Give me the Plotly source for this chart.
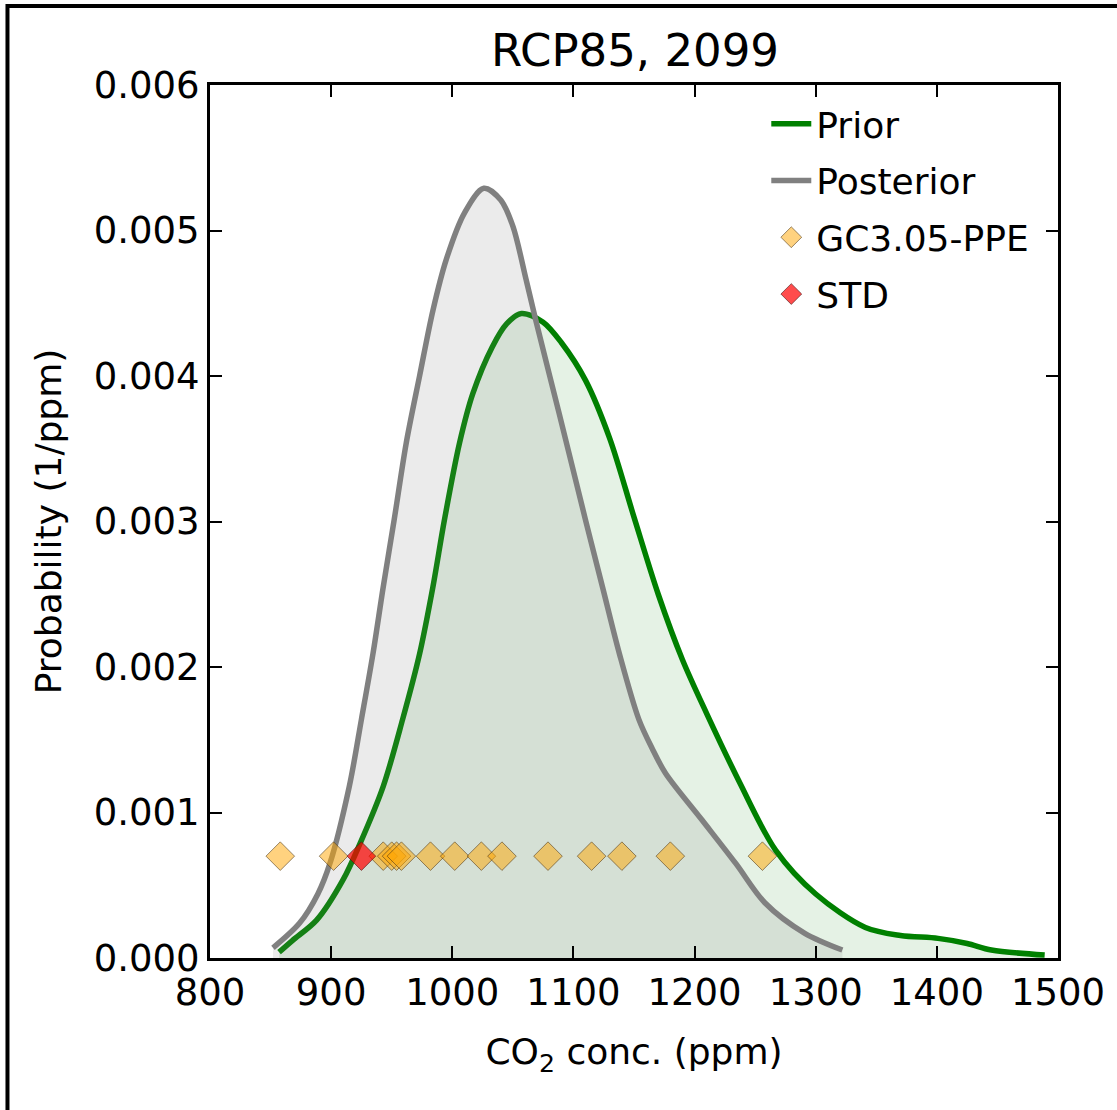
import plotly.graph_objects as go

# ---- data ----
prior_x = [857, 868, 888, 910, 924, 943, 959, 973, 984, 993.5, 1006, 1017, 1033, 1045, 1057,
           1075, 1090, 1110, 1130, 1150, 1170, 1190, 1210, 1237, 1267, 1300, 1341,
           1370, 1401, 1425, 1445, 1489]
prior_y = [0.00004, 0.00012, 0.00026, 0.00054, 0.00079, 0.00118, 0.00164, 0.00209, 0.00255,
           0.00301, 0.00354, 0.00388, 0.0042, 0.00436, 0.00443, 0.00437, 0.00423, 0.00397,
           0.00357, 0.00303, 0.0025, 0.00205, 0.00168, 0.00121, 0.00074, 0.00044, 0.00021,
           0.000155, 0.000135, 0.0001, 0.000055, 0.00002]

post_x = [852, 874, 889, 899, 915, 925, 934.5, 943, 952, 962, 973, 984, 995, 1010,
          1026, 1040, 1050, 1061, 1069, 1088, 1110, 1124, 1138, 1154, 1165, 1176, 1206, 1234,
          1258, 1291, 1322]
post_y = [0.00007, 0.00024, 0.00044, 0.00065, 0.00118, 0.00164, 0.00209, 0.00255,
          0.00301, 0.00354, 0.0040, 0.00445, 0.0048, 0.00512, 0.00529, 0.00521, 0.00503,
          0.00466, 0.00438, 0.00375, 0.00301, 0.00255, 0.00209, 0.00164, 0.00144, 0.00127,
          0.00095, 0.00065, 0.00038, 0.00017, 0.000055]

ppe_x = [858, 902, 943, 950, 954, 958, 982, 1002, 1024, 1041, 1079, 1115, 1140, 1180, 1256]
ppe_y = [0.0007] * len(ppe_x)
std_x = [925]
std_y = [0.0007]

title_text = "RCP85, 2099"
xlabel = "CO<sub>2</sub> conc. (ppm)"
ylabel = "Probability (1/ppm)"

FONT = "DejaVu Sans"

fig = go.Figure()
# prior fill + line
fig.add_trace(go.Scatter(x=prior_x, y=prior_y, mode="lines", fill="tozeroy",
                         fillcolor="rgba(0,128,0,0.10)", line=dict(width=0, shape="spline", smoothing=0.9),
                         showlegend=False, hoverinfo="skip"))
fig.add_trace(go.Scatter(x=prior_x, y=prior_y, mode="lines", name="Prior",
                         line=dict(color="green", width=5.5, shape="spline", smoothing=0.9),
                         legendgroup="a"))
# posterior fill + line
fig.add_trace(go.Scatter(x=post_x, y=post_y, mode="lines", fill="tozeroy",
                         fillcolor="rgba(128,128,128,0.16)", line=dict(width=0, shape="spline", smoothing=0.9),
                         showlegend=False, hoverinfo="skip"))
fig.add_trace(go.Scatter(x=post_x, y=post_y, mode="lines", name="Posterior",
                         line=dict(color="grey", width=5.5, shape="spline", smoothing=0.9),
                         legendgroup="b"))
fig.add_trace(go.Scatter(x=ppe_x, y=ppe_y, mode="markers", name="GC3.05-PPE",
                         marker=dict(symbol="diamond", size=22, color="rgba(255,165,0,0.5)",
                                     line=dict(color="rgba(70,50,20,0.55)", width=1)),
                         legendgroup="c"))
fig.add_trace(go.Scatter(x=std_x, y=std_y, mode="markers", name="STD",
                         marker=dict(symbol="diamond", size=22, color="rgba(255,0,0,0.7)",
                                     line=dict(color="rgba(70,20,20,0.6)", width=1)),
                         legendgroup="d"))

axis_common = dict(showline=True, linecolor="black", linewidth=3, mirror="allticks",
                   ticks="inside", ticklen=12, tickwidth=1.5, tickcolor="black",
                   showgrid=False, zeroline=False,
                   tickfont=dict(family=FONT, size=37, color="black"))

fig.update_layout(
    width=1117, height=1110,
    margin=dict(l=210, r=57, t=85, b=152),
    paper_bgcolor="white", plot_bgcolor="white",
    font=dict(family=FONT, color="black"),
    title=dict(text=title_text, x=(210 + 425) / 1117, xanchor="center",
               y=1 - 50 / 1110, yanchor="middle", yref="container",
               font=dict(family=FONT, size=45, color="black")),
    xaxis=dict(range=[800, 1500], dtick=100, tick0=800,
               title=dict(text=xlabel, font=dict(family=FONT, size=36, color="black"), standoff=26),
               **axis_common),
    yaxis=dict(range=[0, 0.006], dtick=0.001, tick0=0, tickformat=".3f",
               title=dict(text=ylabel, font=dict(family=FONT, size=36, color="black"), standoff=22),
               **axis_common),
    legend=dict(x=0.656, y=0.99, xanchor="left", yanchor="top", bgcolor="rgba(0,0,0,0)",
                borderwidth=0, font=dict(family=FONT, size=36, color="black"),
                tracegroupgap=7, itemwidth=40),
    shapes=[dict(type="rect", xref="paper", yref="paper",
                 x0=(7 - 210) / 850, x1=1.3, y0=-0.4, y1=(958 - 6) / 873,
                 line=dict(color="black", width=4), fillcolor="rgba(0,0,0,0)", layer="below")],
)

fig.write_html("out.html", post_script="document.body.style.margin='0';",
               config={"displayModeBar": False})
